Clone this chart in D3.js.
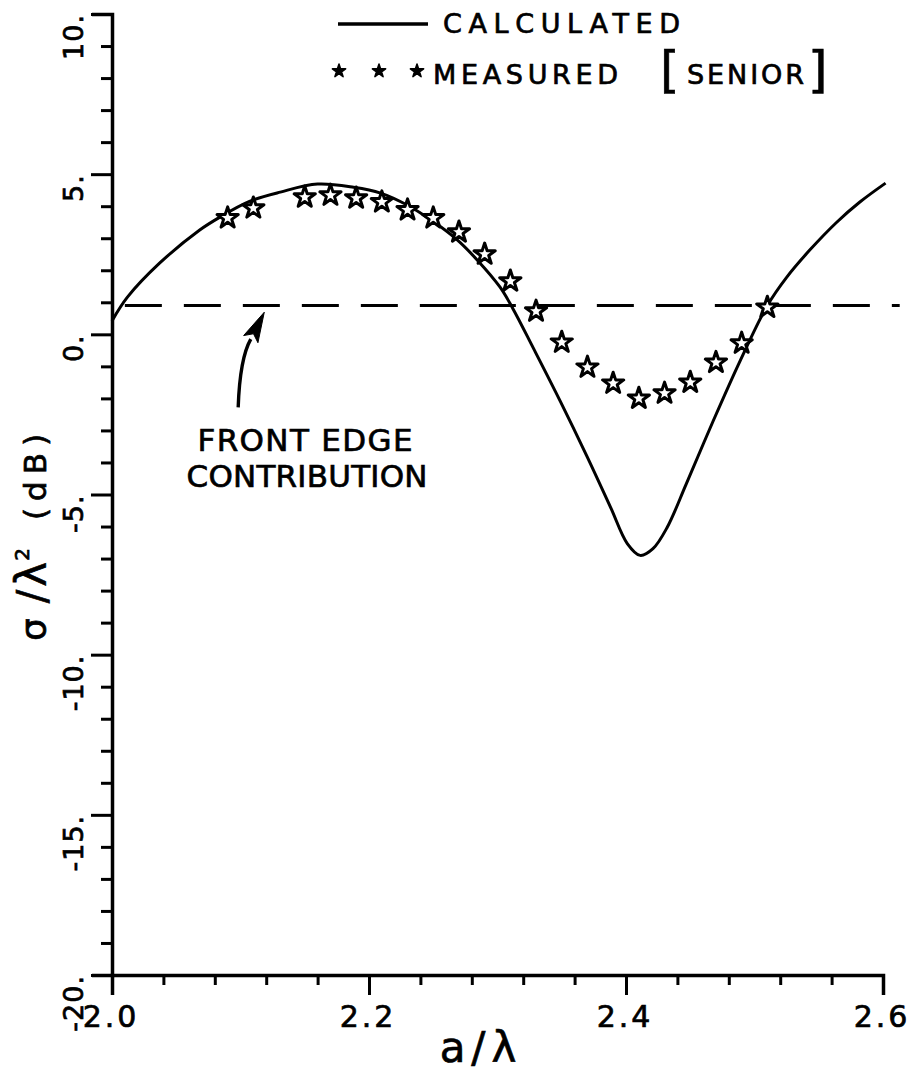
<!DOCTYPE html>
<html>
<head>
<meta charset="utf-8">
<script src="https://cdn.jsdelivr.net/npm/d3@7"></script>
<style>
  html, body { margin: 0; padding: 0; background: #fff; }
  svg { display: block; }
  text { font-family: "DejaVu Sans", "Liberation Sans", sans-serif; fill: #000; stroke: #000; stroke-width: 0.7px; }
</style>
</head>
<body>
<svg id="chart" width="915" height="1080"></svg>
<script>
// ---------- data ----------
const calcX = [2.000, 2.012, 2.037, 2.068, 2.084, 2.107, 2.131, 2.160, 2.188, 2.209, 2.230, 2.250, 2.268, 2.284, 2.302, 2.312, 2.328, 2.349, 2.370, 2.388, 2.401, 2.411, 2.421, 2.432, 2.447, 2.468, 2.489, 2.510, 2.525, 2.543, 2.564, 2.582, 2.602];
const calcY = [0.42, 1.16, 2.22, 3.25, 3.66, 4.15, 4.44, 4.69, 4.59, 4.41, 4.03, 3.52, 2.97, 2.33, 1.47, 0.80, -0.44, -2.10, -3.84, -5.40, -6.53, -6.90, -6.69, -6.03, -4.66, -2.69, -0.81, 0.90, 1.78, 2.63, 3.50, 4.13, 4.72];

const measX = [2.09, 2.11, 2.15, 2.17, 2.19, 2.21, 2.23, 2.25, 2.27, 2.29, 2.31, 2.33, 2.35, 2.37, 2.39, 2.41, 2.43, 2.45, 2.47, 2.49, 2.51];
const measY = [3.63, 3.94, 4.28, 4.34, 4.25, 4.13, 3.88, 3.63, 3.19, 2.50, 1.66, 0.72, -0.25, -1.03, -1.53, -2.00, -1.84, -1.50, -0.88, -0.28, 0.84];

const frontEdgeLevel = 0.9;
const frontEdgeX = [2.01, 2.613];

const xTickValues = d3.range(0, 16).map(i => +(2 + i * 0.04).toFixed(2));
const xTickLabels = [{v: 2.0, t: "2.0"}, {v: 2.2, t: "2.2"}, {v: 2.4, t: "2.4"}, {v: 2.6, t: "2.6"}];
const yTickValues = d3.range(-20, 11, 1);
const yTickLabels = [{v: 10, t: "10."}, {v: 5, t: "5."}, {v: 0, t: "0."}, {v: -5, t: "-5."}, {v: -10, t: "-10."}, {v: -15, t: "-15."}, {v: -20, t: "-20."}];

const legendLabels = ["CALCULATED", "MEASURED", "SENIOR"];
const annotationLines = ["FRONT EDGE", "CONTRIBUTION"];
const xTitle = "a/λ";
const yTitleParts = ["σ", "/", "λ", "2", "(dB)"];

// ---------- layout ----------
const svg = d3.select("#chart");
const x = d3.scaleLinear().domain([2.0, 2.6]).range([112, 883]);
const y = d3.scaleLinear().domain([-20, 10]).range([975, 14]);

// axes
const gx = svg.append("g").attr("transform", `translate(0,${y(-20)})`)
  .call(d3.axisBottom(x).tickValues(xTickValues).tickSizeOuter(0).tickSize(20).tickFormat(""));
gx.select(".domain").attr("stroke", "#000").attr("stroke-width", 3.5);
gx.selectAll(".tick line").attr("stroke", "#000").attr("stroke-width", 3)
  .attr("y2", (d, i) => (i % 5 === 0 ? 20 : 10));

const gy = svg.append("g").attr("transform", `translate(${x(2.0)},0)`)
  .call(d3.axisLeft(y).tickValues(yTickValues).tickSizeOuter(0).tickSize(20).tickFormat(""));
gy.select(".domain").attr("stroke", "#000").attr("stroke-width", 3.5);
gy.selectAll(".tick line").attr("stroke", "#000").attr("stroke-width", 3)
  .attr("x2", d => (d % 5 === 0 ? -21 : -11));

// x tick labels
svg.append("g").selectAll("text").data(xTickLabels).join("text")
  .attr("x", d => x(d.v) - 1).attr("y", 1027)
  .attr("text-anchor", "middle").attr("font-size", 30)
  .attr("letter-spacing", 3)
  .text(d => d.t);

// y tick labels (rotated)
svg.append("g").selectAll("text").data(yTickLabels).join("text")
  .attr("transform", d => `translate(83,${y(d.v)}) rotate(-90)`)
  .attr("text-anchor", "end").attr("font-size", 27)
  .attr("letter-spacing", 1)
  .text(d => d.t);

// axis titles
svg.append("text").attr("x", 481).attr("y", 1062)
  .attr("text-anchor", "middle").attr("font-size", 42)
  .attr("letter-spacing", 6)
  .text(xTitle);

const yt = svg.append("text").attr("transform", "translate(46,641) rotate(-90)")
  .attr("text-anchor", "start").attr("font-size", 34);
yt.append("tspan").attr("font-size", 36).text(yTitleParts[0]);
yt.append("tspan").attr("dx", 15).attr("font-size", 40).text(yTitleParts[1]);
yt.append("tspan").attr("dx", 3).attr("font-size", 42).text(yTitleParts[2]);
yt.append("tspan").attr("dx", 1).attr("dy", -17).attr("font-size", 20).text(yTitleParts[3]);
yt.append("tspan").attr("dx", 28).attr("dy", 17).attr("font-size", 31).attr("letter-spacing", 7).text(yTitleParts[4]);

// front edge dashed line
svg.append("line")
  .attr("x1", x(frontEdgeX[0])).attr("x2", x(frontEdgeX[1]))
  .attr("y1", y(frontEdgeLevel)).attr("y2", y(frontEdgeLevel))
  .attr("stroke", "#000").attr("stroke-width", 3)
  .attr("stroke-dasharray", "37,22");

// calculated curve
const calcData = calcX.map((v, i) => [v, calcY[i]]);
svg.append("path").datum(calcData)
  .attr("fill", "none").attr("stroke", "#000").attr("stroke-width", 3)
  .attr("stroke-linejoin", "round")
  .attr("d", d3.line().x(d => x(d[0])).y(d => y(d[1])).curve(d3.curveCatmullRom.alpha(0.5)));

// measured stars
const star = d3.symbol(d3.symbolStar, 140);
svg.append("g").selectAll("path").data(measX.map((v, i) => [v, measY[i]])).join("path")
  .attr("transform", d => `translate(${x(d[0])},${y(d[1])})`)
  .attr("d", star)
  .attr("fill", "#fff").attr("stroke", "#000").attr("stroke-width", 3)
  .attr("stroke-linejoin", "round");

// annotation arrow
const tail = [x(2.0982), y(-2.28)];
const tip = [x(2.1185), y(0.69)];
const headBase = [x(2.1080), y(-0.15)];
const ctrl = [x(2.0995), y(-0.75)];
const p = d3.path();
p.moveTo(tail[0], tail[1]);
p.quadraticCurveTo(ctrl[0], ctrl[1], headBase[0], headBase[1]);
svg.append("path").attr("d", p.toString())
  .attr("fill", "none").attr("stroke", "#000").attr("stroke-width", 3.4);
{
  const dx = tip[0] - headBase[0], dy = tip[1] - headBase[1];
  const len = Math.hypot(dx, dy);
  const px = -dy / len, py = dx / len;
  const w = 8;
  const notch = [headBase[0] + dx * 0.2, headBase[1] + dy * 0.2];
  const h = d3.path();
  h.moveTo(tip[0], tip[1]);
  h.lineTo(headBase[0] + px * w, headBase[1] + py * w);
  h.lineTo(notch[0], notch[1]);
  h.lineTo(headBase[0] - px * w, headBase[1] - py * w);
  h.closePath();
  svg.append("path").attr("d", h.toString()).attr("fill", "#000").attr("stroke", "#000").attr("stroke-width", 1);
}

// annotation text
svg.append("text").attr("x", 305).attr("y", 451)
  .attr("text-anchor", "middle").attr("font-size", 31)
  .attr("textLength", 215).attr("lengthAdjust", "spacing")
  .text(annotationLines[0]);
svg.append("text").attr("x", 307).attr("y", 487)
  .attr("text-anchor", "middle").attr("font-size", 31)
  .attr("textLength", 241).attr("lengthAdjust", "spacing")
  .text(annotationLines[1]);

// legend
svg.append("line").attr("x1", 338).attr("x2", 428).attr("y1", 24).attr("y2", 24)
  .attr("stroke", "#000").attr("stroke-width", 3.5);
svg.append("text").attr("x", 443).attr("y", 33).attr("font-size", 27)
  .attr("textLength", 237).attr("lengthAdjust", "spacing")
  .text(legendLabels[0]);

const legStar = d3.symbol(d3.symbolStar, 55);
svg.append("g").selectAll("path").data([339, 379, 417]).join("path")
  .attr("transform", d => `translate(${d},71)`)
  .attr("d", legStar).attr("fill", "#000").attr("stroke", "#000").attr("stroke-width", 1.5)
  .attr("stroke-linejoin", "round");
svg.append("text").attr("x", 433).attr("y", 84).attr("font-size", 27)
  .attr("textLength", 185).attr("lengthAdjust", "spacing")
  .text(legendLabels[1]);
svg.append("text").attr("x", 660).attr("y", 87).attr("font-size", 50).attr("stroke-width", 1.2).text("[");
svg.append("text").attr("x", 687).attr("y", 84).attr("font-size", 27)
  .attr("textLength", 117).attr("lengthAdjust", "spacing")
  .text(legendLabels[2]);
svg.append("text").attr("x", 808).attr("y", 87).attr("font-size", 50).attr("stroke-width", 1.2).text("]");
</script>
</body>
</html>
